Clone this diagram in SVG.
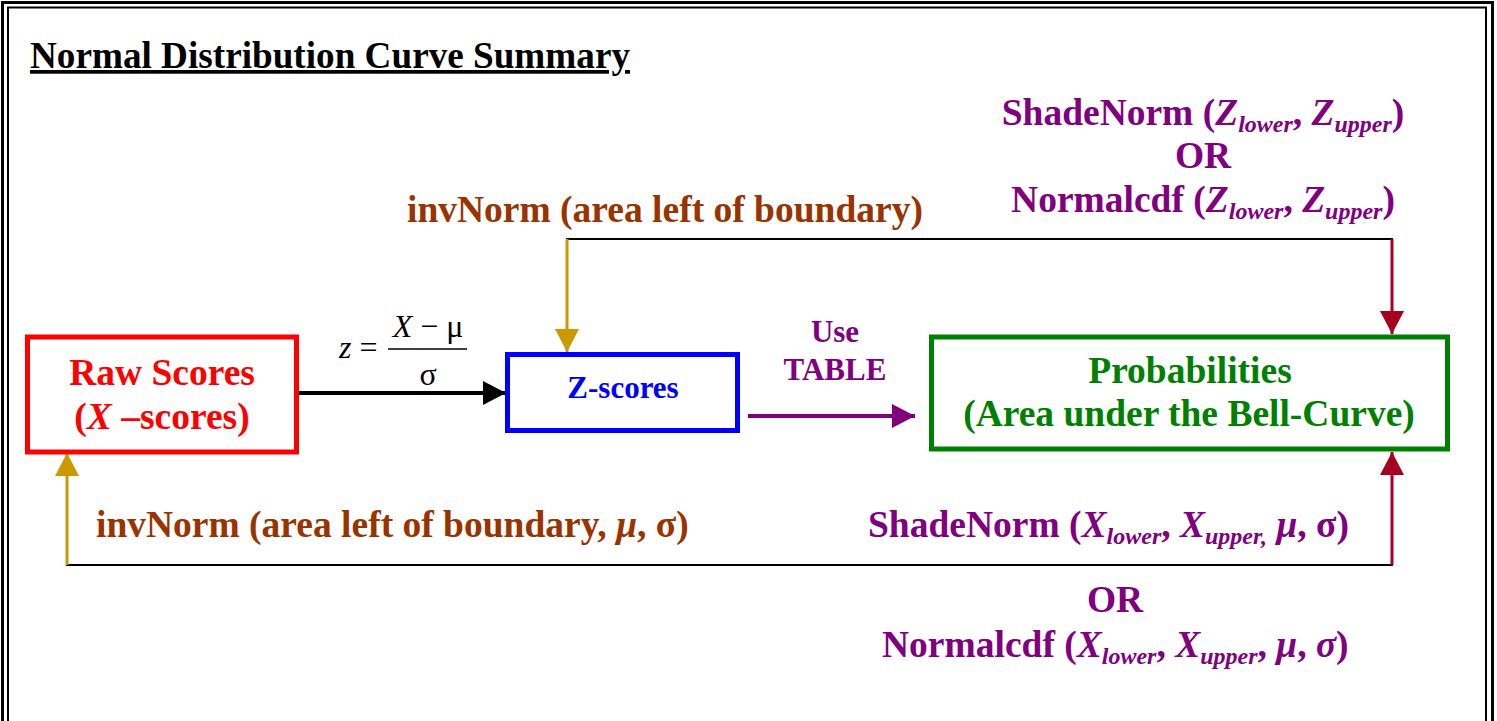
<svg xmlns="http://www.w3.org/2000/svg" width="1497" height="721" viewBox="0 0 1497 721">
<style>
text{font-family:"Liberation Serif","Times New Roman",serif;font-weight:bold}
.lbl{font-size:37.5px}
.sm{font-size:31px}
.it{font-style:italic}
.sub{font-style:italic;font-size:24px}
.pur{fill:#800080}
.brn{fill:#993300}
.math{font-weight:normal;font-size:32px;fill:#000}
.box{fill:#fff;stroke-width:5}
</style>
<defs>
<marker id="hBlack" markerUnits="userSpaceOnUse" markerWidth="24" markerHeight="24" refX="23" refY="12" orient="auto"><path d="M0,0 L23,12 L0,24 z" fill="#000"/></marker>
<marker id="hPur" markerUnits="userSpaceOnUse" markerWidth="24" markerHeight="24" refX="23" refY="12" orient="auto"><path d="M0,0 L23,12 L0,24 z" fill="#800080"/></marker>
<marker id="hGold" markerUnits="userSpaceOnUse" markerWidth="24" markerHeight="24" refX="23" refY="12" orient="auto"><path d="M0,0 L23,12 L0,24 z" fill="#CC9900"/></marker>
<marker id="hRed" markerUnits="userSpaceOnUse" markerWidth="24" markerHeight="24" refX="23" refY="12" orient="auto"><path d="M0,0 L23,12 L0,24 z" fill="#A50021"/></marker>
</defs>
<rect width="1497" height="721" fill="#fff"/>
<g id="frame" fill="none" stroke="#000">
<rect x="2.5" y="2.5" width="1490" height="730" stroke-width="3"/>
<rect x="8" y="7.5" width="1478" height="720" stroke-width="2"/>
</g>
<g id="title"><text x="30" y="68" font-size="37" text-decoration="underline" textLength="600" lengthAdjust="spacingAndGlyphs">Normal Distribution Curve Summary</text></g>
<g id="connectors">
<line x1="299" y1="393" x2="506" y2="393" stroke="#000" stroke-width="4" marker-end="url(#hBlack)"/>
<line x1="748" y1="416" x2="915" y2="416" stroke="#800080" stroke-width="4" marker-end="url(#hPur)"/>
<line x1="566" y1="239" x2="1393" y2="239" stroke="#000" stroke-width="2"/>
<line x1="567" y1="239" x2="567" y2="352" stroke="#CC9900" stroke-width="3" marker-end="url(#hGold)"/>
<line x1="1392" y1="239" x2="1392" y2="334" stroke="#A50021" stroke-width="3" marker-end="url(#hRed)"/>
<line x1="66" y1="565" x2="1393" y2="565" stroke="#000" stroke-width="2"/>
<line x1="67" y1="565" x2="67" y2="453" stroke="#CC9900" stroke-width="3" marker-end="url(#hGold)"/>
<line x1="1392" y1="565" x2="1392" y2="452" stroke="#A50021" stroke-width="3" marker-end="url(#hRed)"/>
</g>
<g id="raw-scores">
<rect class="box" x="27.5" y="337" width="269" height="115" stroke="#FF0000"/>
<text class="lbl" x="162" y="385" text-anchor="middle" fill="#FF0000">Raw Scores</text>
<text class="lbl" x="162" y="429" text-anchor="middle" fill="#FF0000">(<tspan class="it">X</tspan> –scores)</text>
</g>
<g id="z-scores">
<rect class="box" x="507.5" y="354.5" width="230" height="76" stroke="#0000FF"/>
<text class="sm" x="623" y="398" text-anchor="middle" fill="#0000FF">Z-scores</text>
</g>
<g id="probabilities">
<rect class="box" x="931.5" y="337" width="516" height="112" stroke="#008000"/>
<text class="lbl" x="1190" y="383" text-anchor="middle" fill="#008000">Probabilities</text>
<text class="lbl" x="1189" y="426" text-anchor="middle" fill="#008000">(Area under the Bell-Curve)</text>
</g>
<g id="formula">
<text class="math" x="339" y="358"><tspan class="it">z</tspan> =</text>
<line x1="388" y1="349" x2="467" y2="349" stroke="#000" stroke-width="1.5"/>
<text class="math" x="428" y="337" text-anchor="middle"><tspan class="it">X</tspan> − μ</text>
<text class="math" x="428" y="385" text-anchor="middle">σ</text>
</g>
<g id="use-table">
<text class="sm pur" x="835" y="342" text-anchor="middle">Use</text>
<text class="sm pur" x="835" y="380" text-anchor="middle">TABLE</text>
</g>
<g id="label-top-left">
<text class="lbl brn" x="407" y="222">invNorm (area left of boundary)</text>
</g>
<g id="label-top-right">
<text class="lbl pur" x="1203" y="125" text-anchor="middle">ShadeNorm (<tspan class="it">Z</tspan><tspan class="sub" dy="7">lower</tspan><tspan dy="-7">, </tspan><tspan class="it">Z</tspan><tspan class="sub" dy="7">upper</tspan><tspan dy="-7">)</tspan></text>
<text class="lbl pur" x="1203" y="168" text-anchor="middle">OR</text>
<text class="lbl pur" x="1203" y="212" text-anchor="middle">Normalcdf (<tspan class="it">Z</tspan><tspan class="sub" dy="7">lower</tspan><tspan dy="-7">, </tspan><tspan class="it">Z</tspan><tspan class="sub" dy="7">upper</tspan><tspan dy="-7">)</tspan></text>
</g>
<g id="label-bottom-left">
<text class="lbl brn" x="96" y="537">invNorm (area left of boundary, <tspan class="it">μ</tspan>, σ)</text>
</g>
<g id="label-bottom-right">
<text class="lbl pur" x="868" y="537">ShadeNorm (<tspan class="it">X</tspan><tspan class="sub" dy="7">lower</tspan><tspan dy="-7">, </tspan><tspan class="it">X</tspan><tspan class="sub" dy="7">upper,</tspan><tspan dy="-7"> </tspan><tspan class="it">μ</tspan>, σ)</text>
<text class="lbl pur" x="1115" y="612" text-anchor="middle">OR</text>
<text class="lbl pur" x="882" y="657">Normalcdf (<tspan class="it">X</tspan><tspan class="sub" dy="7">lower</tspan><tspan dy="-7">, </tspan><tspan class="it">X</tspan><tspan class="sub" dy="7">upper</tspan><tspan dy="-7">, </tspan><tspan class="it">μ</tspan>, <tspan class="it">σ</tspan>)</text>
</g>
</svg>
